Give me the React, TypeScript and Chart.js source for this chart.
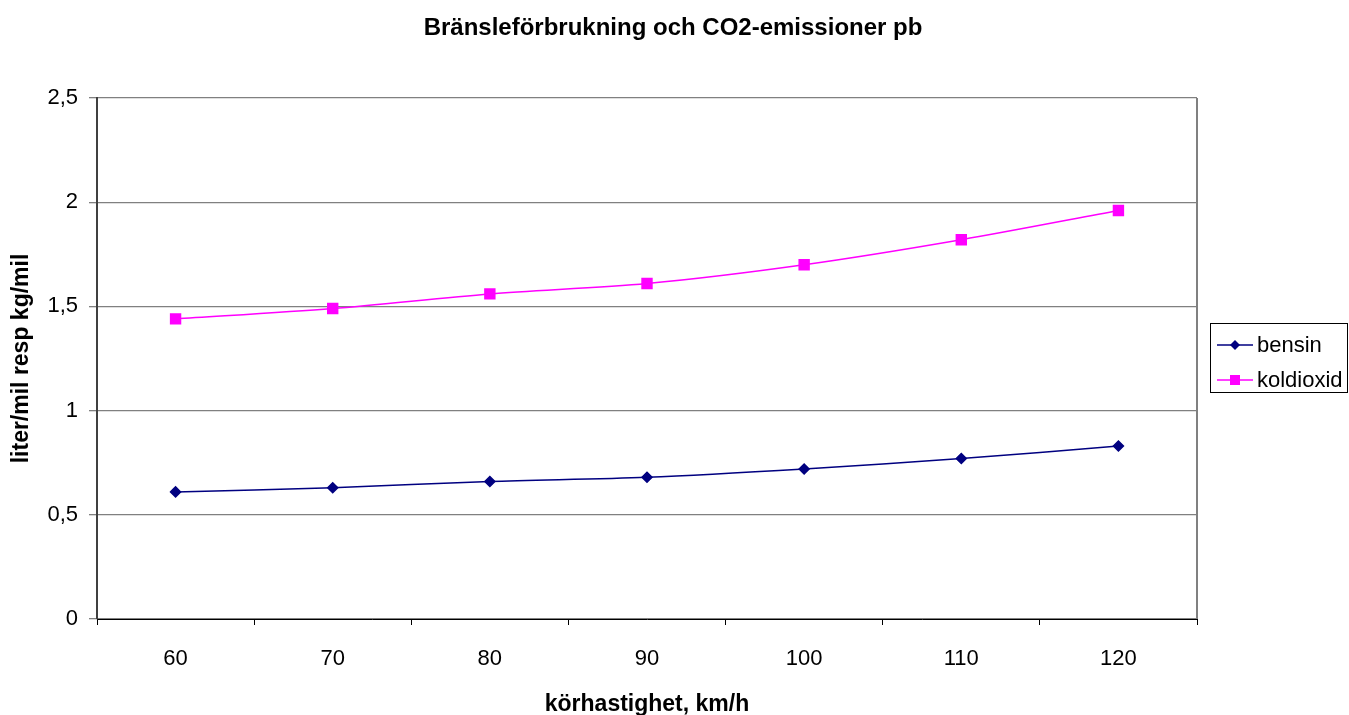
import React, { useEffect, useRef } from "react";
import { Chart, registerables } from "chart.js";

Chart.register(...registerables);

const chartTitle = "Bränsleförbrukning och CO2-emissioner pb";
const xAxisTitle = "körhastighet, km/h";
const yAxisTitle = "liter/mil resp kg/mil";
const speeds = ["60", "70", "80", "90", "100", "110", "120"];
const bensin = [0.61, 0.63, 0.66, 0.68, 0.72, 0.77, 0.83];
const koldioxid = [1.44, 1.49, 1.56, 1.61, 1.7, 1.82, 1.96];
const seriesNames = ["bensin", "koldioxid"];
const yTicks = [0, 0.5, 1, 1.5, 2, 2.5];

const FONT = "'Liberation Sans', Arial, sans-serif";

const decorPlugin = {
  id: "decor",
  afterDraw(chart: any) {
    const ctx = chart.ctx;
    const area = chart.chartArea;
    ctx.save();
    // right border of plot area
    ctx.strokeStyle = "#808080";
    ctx.lineWidth = 2;
    ctx.beginPath();
    ctx.moveTo(area.right, area.top);
    ctx.lineTo(area.right, area.bottom);
    ctx.stroke();

    // title
    ctx.fillStyle = "#000";
    ctx.font = `bold 24px ${FONT}`;
    ctx.textAlign = "center";
    ctx.textBaseline = "middle";
    ctx.fillText(chartTitle, 673, 28);

    // legend
    const bx = 1210, by = 323, bw = 137, bh = 69;
    ctx.fillStyle = "#fff";
    ctx.fillRect(bx, by, bw, bh);
    ctx.strokeStyle = "#000";
    ctx.lineWidth = 1;
    ctx.strokeRect(bx + 0.5, by + 0.5, bw, bh);
    const rows = [345, 380];
    chart.data.datasets.forEach((ds: any, i: number) => {
      const y = rows[i];
      ctx.strokeStyle = ds.borderColor;
      ctx.lineWidth = 1.5;
      ctx.beginPath();
      ctx.moveTo(1217, y);
      ctx.lineTo(1253, y);
      ctx.stroke();
      ctx.fillStyle = ds.pointBackgroundColor;
      if (ds.pointStyle === "rect") {
        ctx.fillRect(1230, y - 5, 10, 10);
      } else {
        ctx.beginPath();
        ctx.moveTo(1235, y - 5);
        ctx.lineTo(1240, y);
        ctx.lineTo(1235, y + 5);
        ctx.lineTo(1230, y);
        ctx.closePath();
        ctx.fill();
      }
      ctx.fillStyle = "#000";
      ctx.font = `22px ${FONT}`;
      ctx.textAlign = "left";
      ctx.textBaseline = "middle";
      ctx.fillText(ds.label, 1257, y + 1);
    });
    ctx.restore();
  },
};

export default function App() {
  const ref = useRef<HTMLCanvasElement | null>(null);
  useEffect(() => {
    if (!ref.current) return;
    const chart = new Chart(ref.current, {
      type: "line",
      data: {
        labels: speeds,
        datasets: [
          {
            label: seriesNames[0],
            data: bensin,
            borderColor: "#000080",
            backgroundColor: "#000080",
            pointBackgroundColor: "#000080",
            pointBorderColor: "#000080",
            pointStyle: "rectRot",
            pointRadius: 5,
            borderWidth: 1.5,
            tension: 0.3,
          },
          {
            label: seriesNames[1],
            data: koldioxid,
            borderColor: "#FF00FF",
            backgroundColor: "#FF00FF",
            pointBackgroundColor: "#FF00FF",
            pointBorderColor: "#FF00FF",
            pointStyle: "rect",
            pointRadius: 7,
            borderWidth: 1.5,
            tension: 0.3,
          },
        ],
      },
      options: {
        animation: false,
        responsive: true,
        maintainAspectRatio: false,
        layout: { padding: { top: 98, right: 152, left: 0, bottom: 0 } },
        plugins: {
          legend: { display: false },
          title: { display: false },
          tooltip: { enabled: false },
        },
        scales: {
          x: {
            type: "category",
            offset: true,
            grid: {
              offset: true,
              drawOnChartArea: false,
              drawTicks: true,
              tickLength: 6,
              color: "#000",
            },
            border: { color: "#000", width: 1 },
            ticks: {
              color: "#000",
              font: { family: FONT, size: 22 },
              padding: 21,
              maxRotation: 0,
            },
            title: {
              display: true,
              text: xAxisTitle,
              color: "#000",
              font: { family: FONT, size: 23, weight: "bold" },
              padding: { top: 0, bottom: -3 },
            },
            afterFit(scale: any) {
              scale.height = 96;
            },
          },
          y: {
            min: 0,
            max: 2.5,
            afterBuildTicks(scale: any) {
              scale.ticks = yTicks.map((v) => ({ value: v }));
            },
            grid: {
              color: "#808080",
              lineWidth: 1.3,
              tickLength: 8,
            },
            border: { color: "#404040", width: 2 },
            ticks: {
              color: "#000",
              font: { family: FONT, size: 22 },
              padding: 11,
              callback: (v: any) => String(v).replace(".", ","),
            },
            title: {
              display: true,
              text: yAxisTitle,
              color: "#000",
              font: { family: FONT, size: 23, weight: "bold" },
              padding: { top: 8, bottom: 0 },
            },
            afterFit(scale: any) {
              scale.width = 97;
            },
          },
        },
      },
      plugins: [decorPlugin],
    });
    return () => chart.destroy();
  }, []);
  return (
    <div style={{ position: "absolute", left: 0, top: 0, width: 1349, height: 715 }}>
      <canvas ref={ref} />
    </div>
  );
}
